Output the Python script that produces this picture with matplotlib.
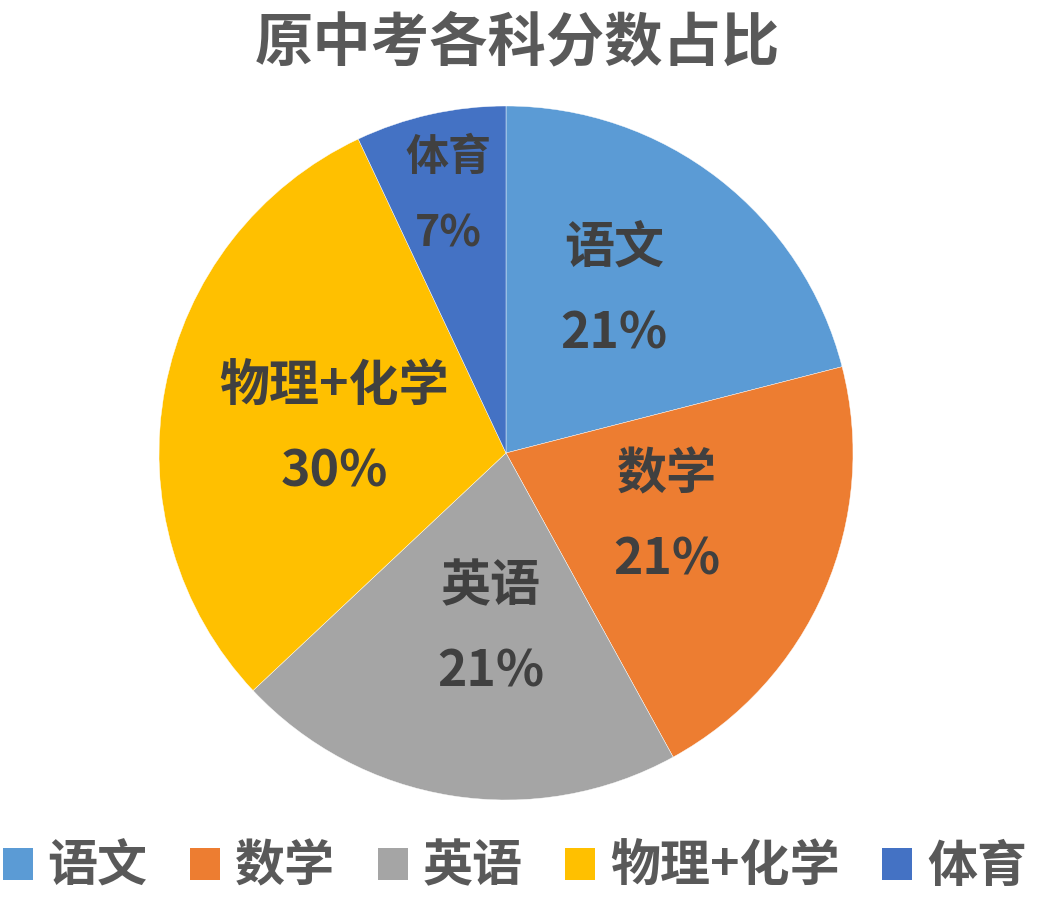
import numpy as np
import matplotlib
matplotlib.use('Agg')
import matplotlib.pyplot as plt
from matplotlib.patches import Patch

plt.rcParams['font.family'] = ['Noto Sans CJK SC', 'DejaVu Sans']

# data
subjects = ['语文', '数学', '英语', '物理+化学', '体育']
shares = [21, 21, 21, 30, 7]
colors = ['#5B9BD5', '#ED7D31', '#A5A5A5', '#FFC000', '#4472C4']

# label placement inside the slices (fraction of radius, angle nudge in degrees)
label_r = [0.56, 0.50, 0.51, 0.50, 0.76]
label_dang = [4, 1.5, 4, 3, 0]
label_size = [36, 36, 36, 36, 31]
label_gap = [0.122, 0.122, 0.122, 0.122, 0.11]

fig = plt.figure(figsize=(10.46, 9), dpi=100)
fig.patch.set_facecolor('white')

# pie area: centre (506, 453) px, radius ~347 px
ax = fig.add_axes([159 / 1046, (900 - 800) / 900, 694 / 1046, 694 / 900])
wedges, _ = ax.pie(shares, colors=colors, startangle=90, counterclock=False,
                   radius=1, wedgeprops=dict(edgecolor='white', linewidth=0.3))
ax.set_xlim(-1, 1)
ax.set_ylim(-1, 1)
ax.set_aspect('equal')
ax.axis('off')

total = sum(shares)
for w, name, val, r, da, fs, gap in zip(wedges, subjects, shares, label_r, label_dang,
                                         label_size, label_gap):
    ang = np.deg2rad((w.theta1 + w.theta2) / 2 + da)
    x, y = r * np.cos(ang), r * np.sin(ang)
    ax.text(x, y + gap, name, ha='center', va='center', fontsize=fs,
            fontweight='bold', color='#404040')
    ax.text(x, y - gap, '{:.0f}%'.format(val / total * 100), ha='center', va='center',
            fontsize=fs, fontweight='bold', color='#404040')

fig.text(517 / 1046, 1 - 43 / 900, '原中考各科分数占比', ha='center', va='center',
         fontsize=42, fontweight='bold', color='#595959')

handles = [Patch(facecolor=c, edgecolor='none') for c in colors]
leg = fig.legend(handles, subjects, loc='center', bbox_to_anchor=(515 / 1046, 1 - 867 / 900),
                 ncol=5, frameon=False, fontsize=36, handlelength=0.6, handleheight=0.6,
                 handletextpad=0.3, columnspacing=0.85, borderpad=0, borderaxespad=0)
for t in leg.get_texts():
    t.set_color('#595959')
    t.set_fontweight('bold')

fig.savefig('out.png', dpi=100, facecolor='white')
